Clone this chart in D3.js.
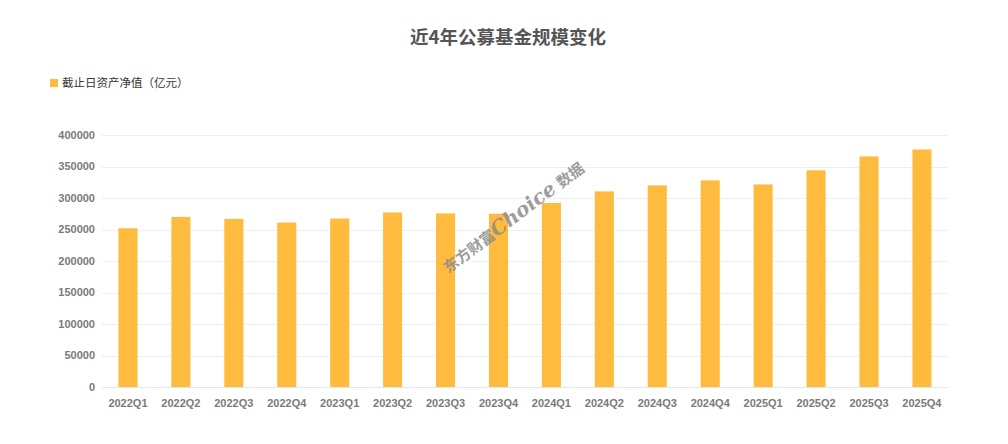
<!DOCTYPE html>
<html><head><meta charset="utf-8">
<script src="https://cdn.jsdelivr.net/npm/d3@7/dist/d3.min.js"></script>
<style>body{margin:0;background:#fff;}svg{display:block;font-family:"Microsoft YaHei","Noto Sans CJK SC",sans-serif;}</style>
</head><body>
<svg id="c" width="1008" height="444"></svg>
<script>
const categories = ["2022Q1","2022Q2","2022Q3","2022Q4","2023Q1","2023Q2","2023Q3","2023Q4","2024Q1","2024Q2","2024Q3","2024Q4","2025Q1","2025Q2","2025Q3","2025Q4"];
const netAssets = [252000,270000,266800,261000,267500,277000,275500,275000,292000,310500,320000,328000,321500,344000,366000,377000];
const yTicks = [0,50000,100000,150000,200000,250000,300000,350000,400000];
const seriesName = "截止日资产净值（亿元）";
const title = "近4年公募基金规模变化";

const svg = d3.select("#c");
const x = d3.scaleBand().domain(categories).range([101.5, 948.4]).paddingInner(0.64).paddingOuter(0.32);
const y = d3.scaleLinear().domain([0, 400000]).range([387, 135]);
const color = "#FFBB3D";

// grid
svg.append("g").selectAll("line").data(yTicks).join("line")
  .attr("x1", 102).attr("x2", 948)
  .attr("y1", d => Math.round(y(d)) + 0.5).attr("y2", d => Math.round(y(d)) + 0.5)
  .attr("stroke", d => d === 0 ? "#e6e6e6" : "#efefef").attr("stroke-width", 1);

// y labels
svg.append("g").selectAll("text").data(yTicks).join("text")
  .attr("x", 95).attr("y", d => y(d)).attr("dy", "0.35em")
  .attr("text-anchor", "end").attr("font-size", 11).attr("font-weight", "bold")
  .attr("fill", "#7a7a7a").attr("font-family", "Arial, 'Liberation Sans', sans-serif")
  .text(d => d);

// bars
svg.append("g").selectAll("rect").data(netAssets).join("rect")
  .attr("x", (d, i) => x(categories[i])).attr("width", x.bandwidth())
  .attr("y", d => y(d)).attr("height", d => y(0) - y(d))
  .attr("fill", color);

// x labels
svg.append("g").selectAll("text").data(categories).join("text")
  .attr("x", d => x(d) + x.bandwidth() / 2).attr("y", 407)
  .attr("text-anchor", "middle").attr("font-size", 11).attr("font-weight", "bold")
  .attr("fill", "#7a7a7a").attr("font-family", "Arial, 'Liberation Sans', sans-serif")
  .text(d => d);

// title
svg.append("text").attr("x", 508).attr("y", 44).attr("text-anchor", "middle")
  .attr("font-size", 18.5).attr("font-weight", "bold").attr("fill", "#555")
  .text(title);

// legend
svg.append("rect").attr("x", 50).attr("y", 79).attr("width", 8).attr("height", 8).attr("fill", color);
svg.append("text").attr("x", 62).attr("y", 87).attr("font-size", 11.5).attr("fill", "#333")
  .text(seriesName);

// watermark
svg.append("text").attr("transform", "translate(517,222) rotate(-37)")
  .attr("text-anchor", "middle").attr("fill", "#8c8c8c").attr("opacity", 0.85)
  .attr("font-size", 20).attr("font-weight", "bold").attr("font-style", "italic")
  .attr("font-family", "'DejaVu Serif', 'Noto Sans CJK SC', serif")
  .html('<tspan font-size="15" font-style="normal">东方财富</tspan>Choice<tspan font-size="15" font-style="normal"> 数据</tspan>');
</script>
</body></html>
